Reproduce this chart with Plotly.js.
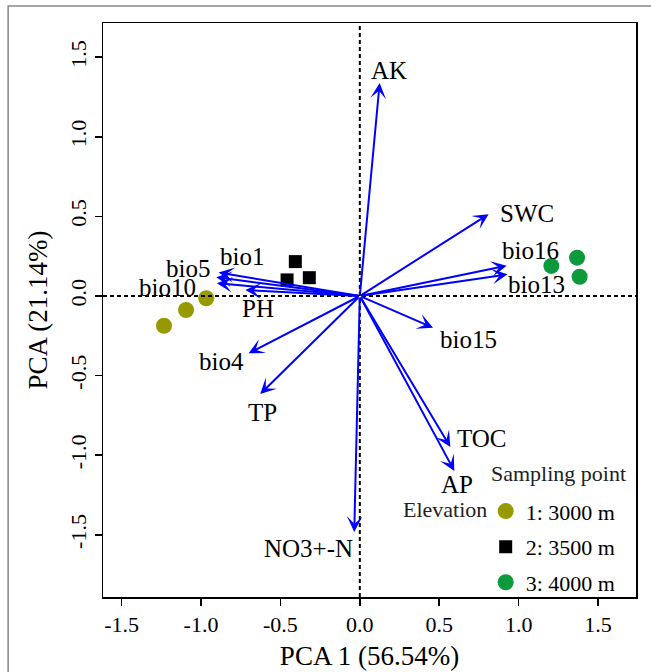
<!DOCTYPE html>
<html>
<head>
<meta charset="utf-8">
<script src="https://cdn.plot.ly/plotly-3.0.1.min.js"></script>
<style>html,body{margin:0;padding:0;background:#fff;}#chart{width:651px;height:672px;}</style>
</head>
<body>
<div id="chart"></div>
<script>
// ---- data ----
const groupNames = ['1: 3000 m', '2: 3500 m', '3: 4000 m'];
const site3000X = [-0.967, -1.094, -1.233];
const site3000Y = [-0.014, -0.088, -0.187];
const site3500X = [-0.406, -0.458, -0.318];
const site3500Y = [0.216, 0.101, 0.115];
const site4000X = [1.206, 1.368, 1.384];
const site4000Y = [0.189, 0.241, 0.121];

const varNames = ['AK', 'SWC', 'bio16', 'bio13', 'bio15', 'TOC', 'AP', 'NO3+-N', 'TP', 'bio4', 'PH', 'bio10', 'bio5', 'bio1'];
const loadX = [0.125, 0.811, 0.925, 0.930, 0.461, 0.570, 0.595, -0.035, -0.627, -0.700, -0.721, -0.900, -0.904, -0.889];
const loadY = [1.338, 0.514, 0.190, 0.136, -0.199, -0.948, -1.099, -1.482, -0.616, -0.360, 0.038, 0.080, 0.118, 0.147];

const tickVals = [-1.5, -1.0, -0.5, 0.0, 0.5, 1.0, 1.5];
const tickText = ['-1.5', '-1.0', '-0.5', '0.0', '0.5', '1.0', '1.5'];

// ---- styling (label offsets in px from arrow tips) ----
const labelOffsets = {
  'AK': [9, -13], 'SWC': [38, -1], 'bio16': [24, -15], 'bio13': [29, 10], 'bio15': [35, 12],
  'TOC': [32, -8], 'AP': [3, 14], 'NO3+-N': [-46, 17], 'TP': [2, 18], 'bio4': [-27, 8],
  'PH': [13, 19], 'bio10': [-49, 4], 'bio5': [-28, -9], 'bio1': [23, -16]
};
const FONT = 'Liberation Serif, Times New Roman, serif';
const groupColors = ['#969a00', '#000000', '#0c9a3c'];
const groupSymbols = ['circle', 'square', 'circle'];
const groupSizes = [16, 13, 16];

const xs = [site3000X, site3500X, site4000X];
const ys = [site3000Y, site3500Y, site4000Y];
const traces = groupNames.map((n, i) => ({
  type: 'scatter', mode: 'markers', name: n, x: xs[i], y: ys[i],
  legendgroup: 'g' + i,
  marker: {color: groupColors[i], symbol: groupSymbols[i], size: groupSizes[i], line: {width: 0}},
  cliponaxis: false
}));

const annotations = [];
varNames.forEach((n, i) => {
  annotations.push({
    x: loadX[i], y: loadY[i], xref: 'x', yref: 'y',
    ax: 0, ay: 0, axref: 'x', ayref: 'y',
    text: '', showarrow: true, arrowhead: 3, arrowsize: 1.3, arrowwidth: 2,
    arrowcolor: '#0000ff', standoff: 0
  });
  const off = labelOffsets[n];
  annotations.push({
    x: loadX[i], y: loadY[i], xref: 'x', yref: 'y',
    text: n, showarrow: false, xanchor: 'center', yanchor: 'middle',
    xshift: off[0], yshift: -off[1],
    font: {family: FONT, size: 25, color: '#000'}
  });
});
annotations.push({
  x: 0.534, y: -1.342, xref: 'x', yref: 'y', text: 'Elevation', showarrow: false,
  xanchor: 'center', yanchor: 'middle', font: {family: FONT, size: 22, color: '#222'}
});
annotations.push({
  x: 1.25, y: -1.113, xref: 'x', yref: 'y', text: 'Sampling point', showarrow: false,
  xanchor: 'center', yanchor: 'middle', font: {family: FONT, size: 22, color: '#222'}
});

const axisCommon = {
  showgrid: false, zeroline: false, showline: true, mirror: true,
  linecolor: '#000', linewidth: 1.5, ticks: 'outside', ticklen: 7, tickwidth: 1.5,
  tickcolor: '#000', tickvals: tickVals, ticktext: tickText,
  tickfont: {family: FONT, size: 22, color: '#000'}
};

const layout = {
  width: 651, height: 672,
  margin: {l: 103, r: 15, t: 23, b: 75},
  paper_bgcolor: '#fff', plot_bgcolor: '#fff',
  xaxis: Object.assign({}, axisCommon, {
    range: [-1.617, 1.739],
    title: {text: 'PCA 1 (56.54%)', font: {family: FONT, size: 27, color: '#000'}, standoff: 10}
  }),
  yaxis: Object.assign({}, axisCommon, {
    range: [-1.891, 1.715], tickangle: -90,
    title: {text: 'PCA (21.14%)', font: {family: FONT, size: 27, color: '#000'}, standoff: 10}
  }),
  showlegend: true,
  legend: {
    x: 0.718, y: 0.186, xanchor: 'left', yanchor: 'top',
    bgcolor: 'rgba(0,0,0,0)', borderwidth: 0,
    font: {family: FONT, size: 22, color: '#000'},
    tracegroupgap: 4
  },
  shapes: [
    {type: 'line', xref: 'x', yref: 'paper', x0: 0, x1: 0, y0: 0, y1: 1,
     line: {color: '#000', width: 2, dash: '4px,3px'}},
    {type: 'line', xref: 'paper', yref: 'y', x0: 0, x1: 1, y0: 0, y1: 0,
     line: {color: '#000', width: 2, dash: '4px,3px'}},
    {type: 'path', xref: 'paper', yref: 'paper',
     path: 'M -0.178,-0.2 L -0.178,1.0296 L 1.1,1.0296',
     line: {color: '#888', width: 1.5}}
  ],
  annotations: annotations
};

Plotly.newPlot('chart', traces, layout, {displayModeBar: false, staticPlot: true});
</script>
</body>
</html>
